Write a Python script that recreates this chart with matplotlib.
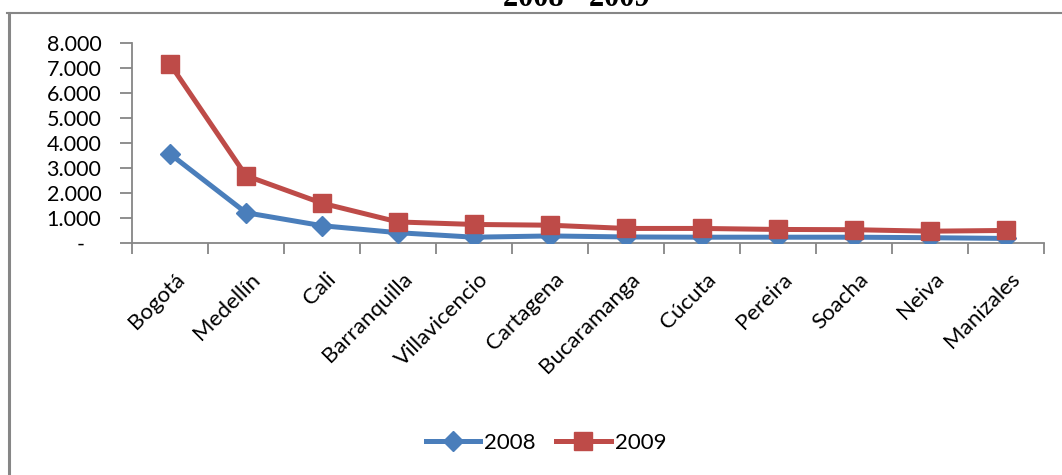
import matplotlib
matplotlib.use("Agg")
import matplotlib.pyplot as plt
import matplotlib.transforms as mtransforms
from matplotlib.lines import Line2D
from matplotlib.ticker import FixedLocator, FuncFormatter

# ---- data ----
ciudades = ["Bogotá", "Medellín", "Cali", "Barranquilla", "Villavicencio",
            "Cartagena", "Bucaramanga", "Cúcuta", "Pereira", "Soacha",
            "Neiva", "Manizales"]
serie_2008 = [3550, 1200, 680, 400, 220, 270, 230, 220, 220, 220, 200, 170]
serie_2009 = [7150, 2680, 1580, 830, 730, 700, 570, 570, 530, 520, 460, 490]
y_ticks = [0, 1000, 2000, 3000, 4000, 5000, 6000, 7000, 8000]
titulo = "2008 - 2009"

plt.rcParams['font.family'] = ['Lato', 'DejaVu Sans']

W, H = 1062, 475
fig = plt.figure(figsize=(W / 100, H / 100), dpi=100)
ax = fig.add_axes([132 / W, 1 - 242.7 / H, (1044 - 132) / W, 200 / H])

x = list(range(len(ciudades)))
blue = "#4A7EBB"
red = "#BE4B48"
ax.plot(x, serie_2008, color=blue, lw=3.6, marker="D", ms=10,
        mfc=blue, mec=blue, label="2008", zorder=3)
ax.plot(x, serie_2009, color=red, lw=3.6, marker="s", ms=13,
        mfc=red, mec=red, label="2009", zorder=4)

ax.set_xlim(-0.5, len(ciudades) - 0.5)
ax.set_ylim(0, 8000)

# y axis
ax.yaxis.set_major_locator(FixedLocator(y_ticks))
def fmt(v, pos):
    if v == 0:
        return "-   "
    return f"{int(v):,}".replace(",", ".")
ax.yaxis.set_major_formatter(FuncFormatter(fmt))

# x axis: ticks at category boundaries, labels at centers
ax.set_xticks([i - 0.5 for i in range(len(ciudades) + 1)])
ax.set_xticklabels([])
ax.set_xticks(x, minor=True)
ax.set_xticklabels(ciudades, minor=True, rotation=45, ha="right",
                   va="top", rotation_mode="anchor", fontsize=16)
ax.tick_params(axis="x", which="minor", length=0, pad=19)
ax.tick_params(axis="x", which="major", length=8, width=1.3,
               color="#868686", direction="out")
ax.tick_params(axis="y", length=9, width=1.3, color="#868686",
               direction="out", labelsize=15.5, pad=13)
offset = mtransforms.ScaledTranslation(4 / 100, 0, fig.dpi_scale_trans)
for lab in ax.get_xticklabels(minor=True):
    lab.set_transform(lab.get_transform() + offset)

for s in ["top", "right"]:
    ax.spines[s].set_visible(False)
for s in ["left", "bottom"]:
    ax.spines[s].set_color("#868686")
    ax.spines[s].set_linewidth(1.3)

# legend
leg = fig.legend(loc="center", bbox_to_anchor=(546 / W, 1 - 443 / H),
                 ncol=2, frameon=False, fontsize=16, handlelength=2.45,
                 handletextpad=0.2, columnspacing=0.9)

# outer frame (partially cut)
fig.add_artist(Line2D([7 / W, 1], [1 - 12.5 / H, 1 - 12.5 / H],
                      transform=fig.transFigure, color="#868686", lw=1.5))
fig.add_artist(Line2D([8.5 / W, 8.5 / W], [0, 1 - 12.5 / H],
                      transform=fig.transFigure, color="#868686", lw=2.2))

# title, cut off at the top
fig.text(576 / W, 1 - 6 / H, titulo, ha="center", va="baseline",
         fontsize=22, fontweight="bold", family="Liberation Serif")

fig.savefig("out.png", dpi=100)
